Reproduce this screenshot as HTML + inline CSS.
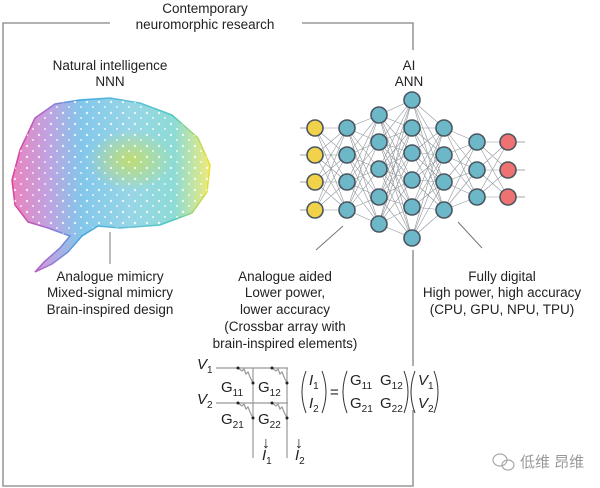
<!DOCTYPE html>
<html><head><meta charset="utf-8"><style>
html,body{margin:0;padding:0;background:#fff;}
svg{display:block;font-family:"Liberation Sans","Noto Sans CJK SC",sans-serif;}
</style></head><body>
<svg width="600" height="488" viewBox="0 0 600 488">
<defs>
<linearGradient id="bg" x1="0" x2="1" y1="0" y2="0">
<stop offset="0" stop-color="#e0409a"/>
<stop offset="0.18" stop-color="#a070d0"/>
<stop offset="0.35" stop-color="#40a8e0"/>
<stop offset="0.6" stop-color="#60c0d8"/>
<stop offset="0.82" stop-color="#50c8c0"/>
<stop offset="1" stop-color="#e8e030"/>
</linearGradient>
<radialGradient id="ry" cx="0.6" cy="0.45" r="0.22">
<stop offset="0" stop-color="#d0e040" stop-opacity="0.7"/>
<stop offset="1" stop-color="#d0e040" stop-opacity="0"/>
</radialGradient>
<pattern id="dots" width="12" height="11" patternUnits="userSpaceOnUse">
<circle cx="3" cy="3" r="1.2" fill="#fff"/><circle cx="9" cy="8" r="1" fill="#fff"/>
</pattern>
</defs>
<g stroke="#999" stroke-width="1.6" fill="none">
<polyline points="110,23 3,23 3,486 413,486 413,410"/>
<polyline points="302,23 413,23 413,50"/>
<line x1="413" y1="250" x2="413" y2="366"/>
</g>
<g font-size="13.5" fill="#222" text-anchor="middle">
<text x="205" y="13">Contemporary</text>
<text x="205" y="29">neuromorphic research</text>
<text x="110" y="70">Natural intelligence</text>
<text x="110" y="86">NNN</text>
<text x="409" y="70">AI</text>
<text x="409" y="86">ANN</text>
<text x="110" y="281">Analogue mimicry</text>
<text x="110" y="297">Mixed-signal mimicry</text>
<text x="110" y="314">Brain-inspired design</text>
<text x="285" y="281">Analogue aided</text>
<text x="285" y="297">Lower power,</text>
<text x="285" y="314">lower accuracy</text>
<text x="285" y="331">(Crossbar array with</text>
<text x="285" y="348">brain-inspired elements)</text>
<text x="502" y="281">Fully digital</text>
<text x="502" y="297">High power, high accuracy</text>
<text x="502" y="314">(CPU, GPU, NPU, TPU)</text>
</g>
<path d="M20,150 L35,118 L55,104 L80,100 L110,98 L140,103 L172,115 L198,138 L210,165 L207,192 L192,213 L160,225 L120,228 L98,226 L82,236 L68,252 L52,264 L35,272 L44,262 L60,248 L70,236 L48,228 L28,222 L15,205 L12,180 Z" fill="url(#bg)" fill-opacity="0.65" stroke="url(#bg)" stroke-width="1.5"/>
<path d="M20,150 L35,118 L55,104 L80,100 L110,98 L140,103 L172,115 L198,138 L210,165 L207,192 L192,213 L160,225 L120,228 L98,226 L70,236 L48,228 L28,222 L15,205 L12,180 Z" fill="url(#ry)"/>
<path d="M20,150 L35,118 L55,104 L80,100 L110,98 L140,103 L172,115 L198,138 L210,165 L207,192 L192,213 L160,225 L120,228 L98,226 L70,236 L48,228 L28,222 L15,205 L12,180 Z" fill="url(#dots)" opacity="0.8"/>
<g stroke="#777" stroke-width="1">
<line x1="110" y1="232" x2="110" y2="264"/>
<line x1="343" y1="226" x2="316" y2="250"/>
<line x1="458" y1="222" x2="482" y2="248"/>
</g>
<!-- network edges -->
<path fill="none" stroke="#6a7078" stroke-width="0.6" opacity="0.75" d="
M315 128L347 128M315 128L347 155M315 128L347 182M315 128L347 210
M315 155L347 128M315 155L347 155M315 155L347 182M315 155L347 210
M315 182L347 128M315 182L347 155M315 182L347 182M315 182L347 210
M315 210L347 128M315 210L347 155M315 210L347 182M315 210L347 210
M347 128L379 115M347 128L379 142M347 128L379 169M347 128L379 197M347 128L379 224
M347 155L379 115M347 155L379 142M347 155L379 169M347 155L379 197M347 155L379 224
M347 182L379 115M347 182L379 142M347 182L379 169M347 182L379 197M347 182L379 224
M347 210L379 115M347 210L379 142M347 210L379 169M347 210L379 197M347 210L379 224
M379 115L412 100M379 115L412 128M379 115L412 153M379 115L412 180M379 115L412 207M379 115L412 238
M379 142L412 100M379 142L412 128M379 142L412 153M379 142L412 180M379 142L412 207M379 142L412 238
M379 169L412 100M379 169L412 128M379 169L412 153M379 169L412 180M379 169L412 207M379 169L412 238
M379 197L412 100M379 197L412 128M379 197L412 153M379 197L412 180M379 197L412 207M379 197L412 238
M379 224L412 100M379 224L412 128M379 224L412 153M379 224L412 180M379 224L412 207M379 224L412 238
M412 100L444 128M412 100L444 155M412 100L444 182M412 100L444 210
M412 128L444 128M412 128L444 155M412 128L444 182M412 128L444 210
M412 153L444 128M412 153L444 155M412 153L444 182M412 153L444 210
M412 180L444 128M412 180L444 155M412 180L444 182M412 180L444 210
M412 207L444 128M412 207L444 155M412 207L444 182M412 207L444 210
M412 238L444 128M412 238L444 155M412 238L444 182M412 238L444 210
M444 128L477 142M444 128L477 170M444 128L477 197
M444 155L477 142M444 155L477 170M444 155L477 197
M444 182L477 142M444 182L477 170M444 182L477 197
M444 210L477 142M444 210L477 170M444 210L477 197
M477 142L508 142M477 142L508 170M477 142L508 197
M477 170L508 142M477 170L508 170M477 170L508 197
M477 197L508 142M477 197L508 170M477 197L508 197"/>
<path fill="none" stroke="#888" stroke-width="0.8" d="M300 128H315M300 155H315M300 182H315M300 210H315M508 142H525M508 170H525M508 197H525"/>
<g stroke="#4a5660" stroke-width="1.6">
<g fill="#f2d24a"><circle cx="315" cy="128" r="8"/><circle cx="315" cy="155" r="8"/><circle cx="315" cy="182" r="8"/><circle cx="315" cy="210" r="8"/></g>
<g fill="#6cb8c8">
<circle cx="347" cy="128" r="8"/><circle cx="347" cy="155" r="8"/><circle cx="347" cy="182" r="8"/><circle cx="347" cy="210" r="8"/>
<circle cx="379" cy="115" r="8"/><circle cx="379" cy="142" r="8"/><circle cx="379" cy="169" r="8"/><circle cx="379" cy="197" r="8"/><circle cx="379" cy="224" r="8"/>
<circle cx="412" cy="100" r="8"/><circle cx="412" cy="128" r="8"/><circle cx="412" cy="153" r="8"/><circle cx="412" cy="180" r="8"/><circle cx="412" cy="207" r="8"/><circle cx="412" cy="238" r="8"/>
<circle cx="444" cy="128" r="8"/><circle cx="444" cy="155" r="8"/><circle cx="444" cy="182" r="8"/><circle cx="444" cy="210" r="8"/>
<circle cx="477" cy="142" r="8"/><circle cx="477" cy="170" r="8"/><circle cx="477" cy="197" r="8"/>
</g>
<g fill="#ee7272"><circle cx="508" cy="142" r="8"/><circle cx="508" cy="170" r="8"/><circle cx="508" cy="197" r="8"/></g>
</g>
<!-- crossbar -->
<g stroke="#999" stroke-width="1.2" fill="none">
<line x1="216" y1="368" x2="288" y2="368"/>
<line x1="216" y1="403" x2="288" y2="403"/>
<line x1="253" y1="368" x2="253" y2="458"/>
<line x1="287" y1="368" x2="287" y2="458"/>
<polyline points="238,368 242,371 244,369 246,374 248,372 250,377 253,383"/>
<polyline points="272,368 276,371 278,369 280,374 282,372 284,377 287,383"/>
<polyline points="238,403 242,406 244,404 246,409 248,407 250,412 253,418"/>
<polyline points="272,403 276,406 278,404 280,409 282,407 284,412 287,418"/>
</g>
<g fill="#222">
<circle cx="238" cy="368" r="1.5"/><circle cx="253" cy="383" r="1.5"/>
<circle cx="272" cy="368" r="1.5"/><circle cx="287" cy="383" r="1.5"/>
<circle cx="238" cy="403" r="1.5"/><circle cx="253" cy="418" r="1.5"/>
<circle cx="272" cy="403" r="1.5"/><circle cx="287" cy="418" r="1.5"/>
</g>
<g font-size="15" fill="#222" font-style="italic">
<text x="197" y="369">V<tspan font-size="10" dy="4" font-style="normal">1</tspan></text>
<text x="197" y="404">V<tspan font-size="10" dy="4" font-style="normal">2</tspan></text>
<text x="262" y="460">I<tspan font-size="10" dy="4" font-style="normal">1</tspan></text>
<text x="295" y="460">I<tspan font-size="10" dy="4" font-style="normal">2</tspan></text>
</g>
<g font-size="15" fill="#222">
<text x="221" y="392">G<tspan font-size="10" dy="4">11</tspan></text>
<text x="258" y="392">G<tspan font-size="10" dy="4">12</tspan></text>
<text x="221" y="424">G<tspan font-size="10" dy="4">21</tspan></text>
<text x="258" y="424">G<tspan font-size="10" dy="4">22</tspan></text>
<text x="262" y="448" font-size="16">↓</text>
<text x="295" y="448" font-size="16">↓</text>
<text x="309" y="385" font-style="italic">I<tspan font-size="10" dy="4" font-style="normal">1</tspan></text>
<text x="309" y="408" font-style="italic">I<tspan font-size="10" dy="4" font-style="normal">2</tspan></text>
<text x="330" y="397">=</text>
<text x="350" y="385">G<tspan font-size="10" dy="4">11</tspan></text>
<text x="380" y="385">G<tspan font-size="10" dy="4">12</tspan></text>
<text x="350" y="408">G<tspan font-size="10" dy="4">21</tspan></text>
<text x="380" y="408">G<tspan font-size="10" dy="4">22</tspan></text>
<text x="418" y="385" font-style="italic">V<tspan font-size="10" dy="4" font-style="normal">1</tspan></text>
<text x="418" y="408" font-style="italic">V<tspan font-size="10" dy="4" font-style="normal">2</tspan></text>
</g>
<g stroke="#333" stroke-width="1" fill="none">
<path d="M306,371 Q298,392 306,413"/><path d="M322,371 Q330,392 322,413"/>
<path d="M347,371 Q339,392 347,413"/><path d="M404,371 Q412,392 404,413"/>
<path d="M415,371 Q407,392 415,413"/><path d="M434,371 Q442,392 434,413"/>
</g>
<g fill="none" stroke="#aaa" stroke-width="1.2">
<ellipse cx="500" cy="460" rx="7" ry="6"/><ellipse cx="508" cy="465" rx="6" ry="5"/>
</g>
<text x="520" y="467" font-size="15" fill="#999">低维 昂维</text>
</svg>
</body></html>
